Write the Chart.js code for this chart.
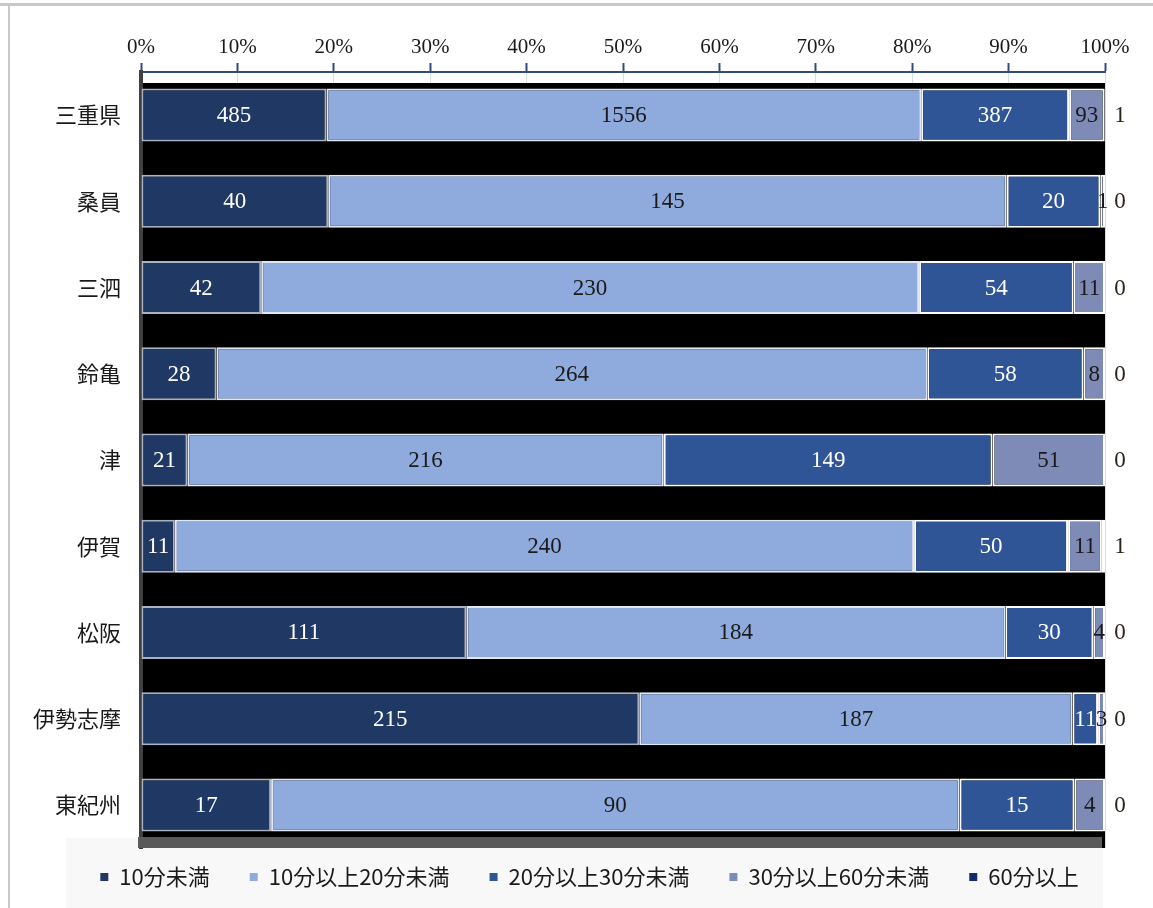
<!DOCTYPE html>
<html><head><meta charset="utf-8">
<script src="https://cdn.jsdelivr.net/npm/chart.js@4.4.1/dist/chart.umd.min.js"></script>
<style>html,body{margin:0;padding:0;background:#fff;}#wrap{position:relative;width:1153px;height:908px;}</style>
</head><body><div id="wrap"><canvas id="c" width="1153" height="908"></canvas></div>
<script>
const categories = ['三重県','桑員','三泗','鈴亀','津','伊賀','松阪','伊勢志摩','東紀州'];
const seriesNames = ['10分未満','10分以上20分未満','20分以上30分未満','30分以上60分未満','60分以上'];
const under10    = [485, 40, 42, 28, 21, 11, 111, 215, 17];
const from10to20 = [1556, 145, 230, 264, 216, 240, 184, 187, 90];
const from20to30 = [387, 20, 54, 58, 149, 50, 30, 11, 15];
const from30to60 = [93, 1, 11, 8, 51, 11, 4, 3, 4];
const over60     = [1, 0, 0, 0, 0, 1, 0, 0, 0];
const tickLabels = ['0%','10%','20%','30%','40%','50%','60%','70%','80%','90%','100%'];

const counts = [under10, from10to20, from20to30, from30to60, over60];
const totals = categories.map((_, i) => counts.reduce((s, a) => s + a[i], 0));
const colors = ['#203864', '#8faadc', '#2f5597', '#7f8bb7', '#13296b'];
const borderColors = ['#aab1c0', '#dfe6f4', '#ffffff', '#ffffff', '#ffffff'];
const labelColors = ['#ffffff', '#1a1a1a', '#ffffff', '#1a1a1a', '#2b2418'];
const LEGEND_FS = 22;
const LEGEND_PAD = 40;

const datasets = counts.map((arr, k) => ({
  label: seriesNames[k],
  data: arr.map((v, i) => v / totals[i] * 100),
  backgroundColor: colors[k],
  borderColor: borderColors[k],
  borderWidth: 2,
  borderSkipped: false,
  categoryPercentage: 1,
  barPercentage: 0.615
}));

const decor = {
  id: 'decor',
  beforeDraw(chart) {
    const c = chart.ctx;
    c.save();
    c.fillStyle = '#ffffff'; c.fillRect(0, 0, 1153, 908);
    c.fillStyle = '#f8f8f8'; c.fillRect(66, 838, 1037, 70);
    c.fillStyle = '#c8c8c8'; c.fillRect(0, 3, 1153, 3);
    c.fillStyle = '#c8c8c8'; c.fillRect(8, 3, 2, 905);
    c.restore();
  },
  afterLayout(chart) {
    const lg = chart.legend;
    const dy = 877 - (lg.top + LEGEND_PAD + LEGEND_FS / 2);
    lg.top += dy; lg.bottom += dy;
    const dx = 589.5 - (lg.left + lg.right) / 2;
    lg.left += dx; lg.right += dx;
  },
  beforeDatasetsDraw(chart) {
    const {left, right, top, bottom} = chart.chartArea;
    const c = chart.ctx;
    c.save();
    c.fillStyle = '#000000';
    c.fillRect(left + 2, top + 11, right - left - 2, bottom - top - 11);
    c.fillStyle = '#5a5a5a';
    c.fillRect(left - 3, bottom - 11, right - left, 11);
    c.restore();
  },
  afterDatasetsDraw(chart) {
    const c = chart.ctx;
    c.save();
    c.font = '23px "Liberation Serif"';
    c.textAlign = 'center';
    c.textBaseline = 'middle';
    chart.data.datasets.forEach((ds, k) => {
      const meta = chart.getDatasetMeta(k);
      meta.data.forEach((bar, i) => {
        const p = bar.getProps(['x', 'y', 'base'], true);
        const x = k === 4 ? chart.chartArea.right + 15 : (p.x + p.base) / 2;
        c.fillStyle = labelColors[k];
        c.fillText(String(counts[k][i]), x, p.y + 1);
      });
    });
    c.restore();
  }
};

new Chart(document.getElementById('c'), {
  type: 'bar',
  data: { labels: categories, datasets },
  options: {
    indexAxis: 'y',
    responsive: false,
    animation: false,
    devicePixelRatio: 1,
    layout: { padding: { top: 0, left: 0, right: 48, bottom: -12 } },
    scales: {
      x: {
        type: 'linear', position: 'top', stacked: true, min: 0, max: 100,
        ticks: { stepSize: 10, callback: (v, i) => tickLabels[i], font: { family: '"Liberation Serif"', size: 21 }, color: '#1a1a1a', padding: 3 },
        grid: { color: '#dcdcdc', lineWidth: 1, tickColor: '#2f4b7c', tickLength: 9, tickWidth: 2, drawOnChartArea: true },
        border: { color: '#2f4b7c', width: 2 },
        afterFit: s => { s.height = 72; }
      },
      y: {
        type: 'category', stacked: true,
        grid: { display: false, drawTicks: false },
        border: { display: true, color: '#404040', width: 4 },
        ticks: { font: { family: '"Noto Sans CJK JP"', size: 22 }, color: '#1a1a1a', padding: 20 },
        afterFit: s => { s.width = 141; }
      }
    },
    plugins: {
      tooltip: { enabled: false },
      legend: {
        position: 'bottom',
        labels: {
          boxWidth: 8, boxHeight: 8, padding: LEGEND_PAD,
          font: { family: '"Noto Sans CJK JP"', size: LEGEND_FS }, color: '#1a1a1a',
          generateLabels: chart => chart.data.datasets.map((d, i) => ({
            text: d.label, fillStyle: d.backgroundColor, strokeStyle: d.backgroundColor,
            lineWidth: 0, hidden: false, datasetIndex: i, fontColor: '#1a1a1a'
          }))
        }
      }
    }
  },
  plugins: [decor]
});
</script></body></html>
